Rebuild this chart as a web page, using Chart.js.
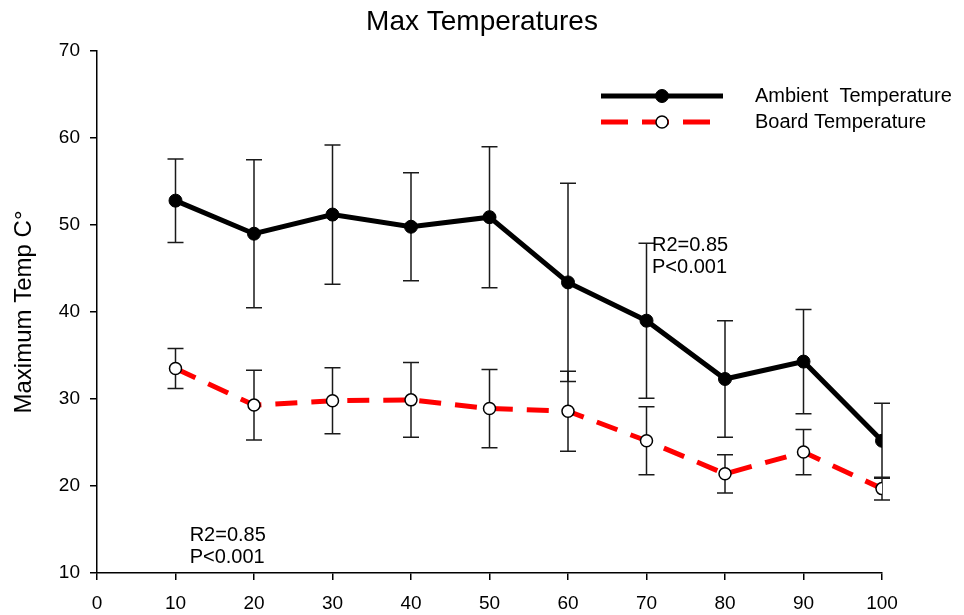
<!DOCTYPE html>
<html>
<head>
<meta charset="utf-8">
<title>Max Temperatures</title>
<script src="https://cdn.jsdelivr.net/npm/chart.js@4/dist/chart.umd.min.js"></script>
<style>
    html, body { margin: 0; padding: 0; background: #fff; }
    #wrap { width: 964px; height: 615px; }
</style>
</head>
<body>
<div id="wrap"><canvas id="maxTempChart" width="964" height="615"></canvas></div>
<script>
// 데이터
const xValues = [10, 20, 30, 40, 50, 60, 70, 80, 90, 100];
const ambientMean = [52.8, 49.0, 51.2, 49.8, 50.9, 43.4, 39.0, 32.3, 34.3, 25.2];
const ambientErr = [4.8, 8.5, 8.0, 6.2, 8.1, 11.4, 8.9, 6.7, 6.0, 4.3];
const boardMean = [33.5, 29.3, 29.8, 29.9, 28.9, 28.6, 25.2, 21.4, 23.9, 19.7];
const boardErr = [2.3, 4.0, 3.8, 4.3, 4.5, 4.6, 3.9, 2.2, 2.6, 1.3];
const seriesLabels = ['Ambient  Temperature', 'Board Temperature'];
const statLines = ['R2=0.85', 'P<0.001'];
const chartTitle = 'Max Temperatures';

const FONT = "'Liberation Sans', Arial, sans-serif";
Chart.defaults.font.family = FONT;
Chart.defaults.color = '#000';

// 오차 막대 (데이터셋 뒤에 그림)
const errorBarPlugin = {
    id: 'errorBars',
    beforeDatasetsDraw(chart) {
        const { ctx, scales: { x, y } } = chart;
        const errs = [ambientErr, boardErr];
        ctx.save();
        ctx.strokeStyle = '#1a1a1a';
        ctx.lineWidth = 1.5;
        chart.data.datasets.forEach((ds, di) => {
            ds.data.forEach((pt, i) => {
                const px = x.getPixelForValue(pt.x);
                const top = y.getPixelForValue(pt.y + errs[di][i]);
                const bot = y.getPixelForValue(pt.y - errs[di][i]);
                ctx.beginPath();
                ctx.moveTo(px, top);
                ctx.lineTo(px, bot);
                ctx.moveTo(px - 8, top);
                ctx.lineTo(px + 8, top);
                ctx.moveTo(px - 8, bot);
                ctx.lineTo(px + 8, bot);
                ctx.stroke();
            });
        });
        ctx.restore();
    },
};

// 제목, 범례, R2 텍스트
const extrasPlugin = {
    id: 'extras',
    afterDraw(chart) {
        const { ctx, scales: { x, y } } = chart;
        ctx.save();
        ctx.fillStyle = '#000';
        ctx.textBaseline = 'middle';

        // 제목 (캔버스 가운데)
        ctx.font = '28px ' + FONT;
        ctx.textAlign = 'center';
        ctx.fillText(chartTitle, chart.width / 2, 22);

        ctx.font = '20px ' + FONT;
        ctx.textAlign = 'left';

        // R2 / P 텍스트
        [[11.8, 14.3], [70.7, 47.6]].forEach(([vx, vy]) => {
            const px = x.getPixelForValue(vx);
            const py = y.getPixelForValue(vy);
            statLines.forEach((t, k) => ctx.fillText(t, px, py + k * 22));
        });

        // 범례
        const rows = [96, 122];
        chart.data.datasets.forEach((ds, i) => {
            const ly = rows[i];
            ctx.beginPath();
            ctx.lineWidth = ds.borderWidth;
            ctx.strokeStyle = ds.borderColor;
            ctx.setLineDash(i === 1 ? [27, 14] : []);
            ctx.moveTo(601, ly);
            ctx.lineTo(723, ly);
            ctx.stroke();
            ctx.setLineDash([]);
            ctx.beginPath();
            ctx.arc(662, ly, ds.pointRadius, 0, Math.PI * 2);
            ctx.fillStyle = ds.pointBackgroundColor;
            ctx.fill();
            ctx.lineWidth = ds.pointBorderWidth;
            ctx.strokeStyle = ds.pointBorderColor;
            ctx.stroke();
            ctx.fillStyle = '#000';
            ctx.fillText(ds.label, 755, ly);
        });
        ctx.restore();
    },
};

const axisStyle = {
    grid: { drawOnChartArea: false, tickLength: 7, color: '#000', lineWidth: 1.5 },
    border: { color: '#000', width: 1.5 },
};

const ctx = document.getElementById('maxTempChart').getContext('2d');
const maxTempChart = new Chart(ctx, {
    type: 'line',
    data: {
        datasets: [
            {
                label: seriesLabels[0],
                data: xValues.map((v, i) => ({ x: v, y: ambientMean[i] })),
                borderColor: '#000',
                borderWidth: 5,
                pointRadius: 6.5,
                pointBackgroundColor: '#000',
                pointBorderColor: '#000',
                pointBorderWidth: 1,
                tension: 0,
            },
            {
                label: seriesLabels[1],
                data: xValues.map((v, i) => ({ x: v, y: boardMean[i] })),
                borderColor: '#ff0000',
                borderWidth: 5,
                borderDash: [22, 14],
                pointRadius: 6,
                pointBackgroundColor: '#fff',
                pointBorderColor: '#000',
                pointBorderWidth: 1.5,
                tension: 0,
            },
        ],
    },
    options: {
        responsive: false,
        animation: false,
        layout: { padding: { left: 0, right: 82, top: 51, bottom: 0 } },
        plugins: {
            legend: { display: false },
            tooltip: { enabled: false },
            title: { display: false },
        },
        scales: {
            x: {
                type: 'linear',
                min: 0,
                max: 100,
                ticks: { stepSize: 10, color: '#000', font: { size: 19 }, padding: 12 },
                ...axisStyle,
                afterFit: (s) => { s.height = 42; },
            },
            y: {
                min: 10,
                max: 70,
                ticks: { stepSize: 10, color: '#000', font: { size: 19 }, padding: 10 },
                title: {
                    display: true,
                    text: 'Maximum Temp C°',
                    color: '#000',
                    font: { size: 24 },
                    padding: { top: 10, bottom: 0 },
                },
                ...axisStyle,
                afterFit: (s) => { s.width = 97; },
            },
        },
    },
    plugins: [errorBarPlugin, extrasPlugin],
});
</script>
</body>
</html>
